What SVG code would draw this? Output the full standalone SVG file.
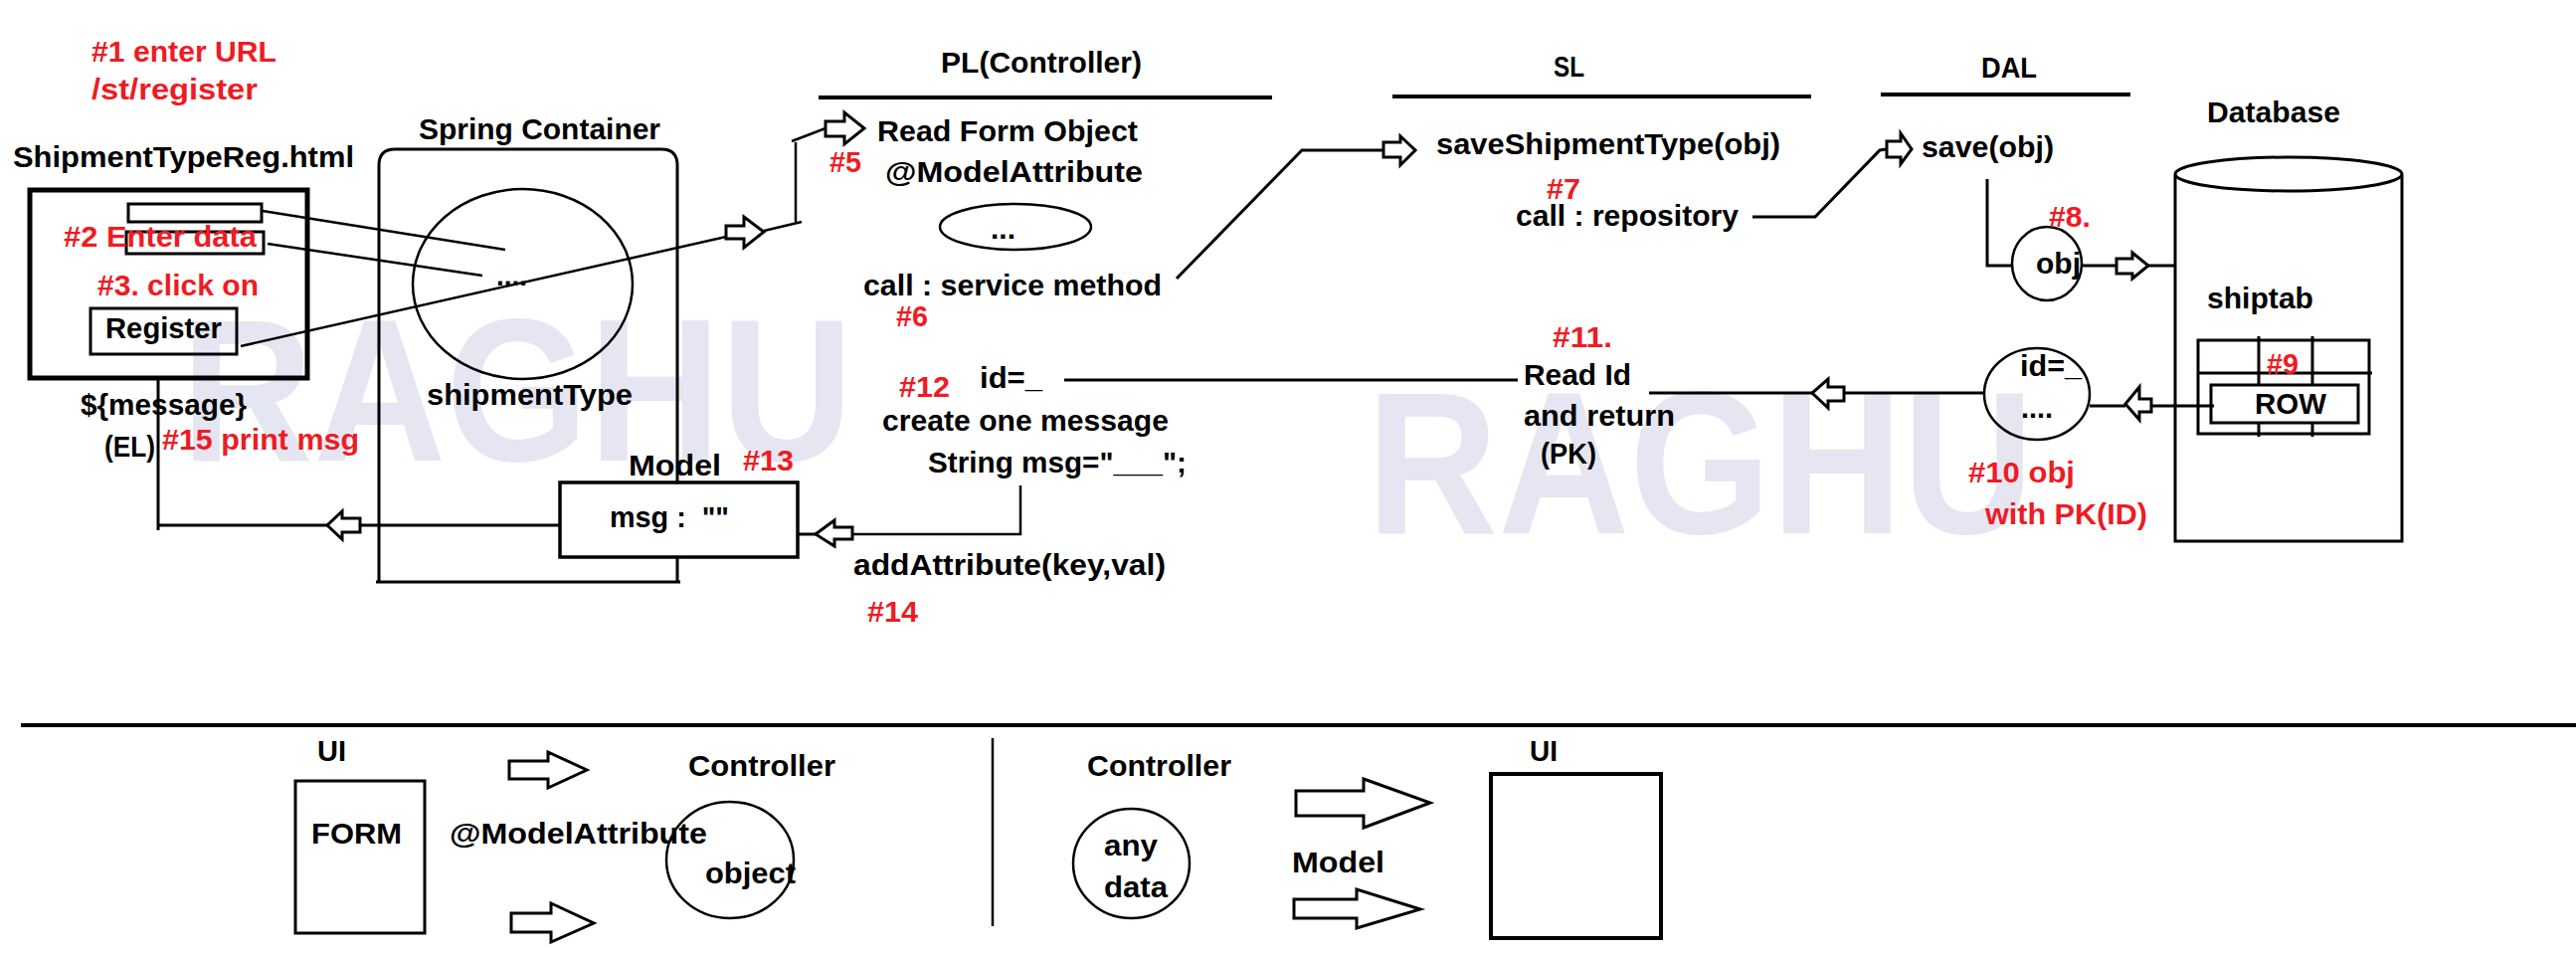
<svg xmlns="http://www.w3.org/2000/svg" width="2590" height="960" viewBox="0 0 2590 960">
<style>
text{font-family:"Liberation Sans",Arial,sans-serif;font-weight:bold;font-size:30px;fill:#000}
text.r{fill:#ED1C24}
text.wm{fill:#E6E6F2;font-size:204px}
.s{fill:none;stroke:#000;stroke-width:3}
.w{fill:#fff;stroke:#000;stroke-width:3}
.thin{fill:none;stroke:#000;stroke-width:2.5}
.ar{fill:#fff;stroke:#000;stroke-width:3;stroke-linejoin:miter}
</style>
<rect width="2590" height="960" fill="#fff"/>
<g id="watermarks">
<text class="wm" x="182" y="463" textLength="676" lengthAdjust="spacingAndGlyphs">RAGHU</text>
<text class="wm" x="1374" y="536" textLength="671" lengthAdjust="spacingAndGlyphs">RAGHU</text>
</g>
<g id="layers">
<line class="s" x1="823" y1="98" x2="1279" y2="98" style="stroke-width:4"/>
<line class="s" x1="1400" y1="97" x2="1821" y2="97" style="stroke-width:4"/>
<line class="s" x1="1891" y1="95" x2="2142" y2="95" style="stroke-width:4"/>
<text x="946" y="73" textLength="202" lengthAdjust="spacingAndGlyphs">PL(Controller)</text>
<text x="1562" y="77" textLength="31" lengthAdjust="spacingAndGlyphs">SL</text>
<text x="1992" y="78" textLength="56" lengthAdjust="spacingAndGlyphs">DAL</text>
</g>
<g id="steps-top">
<text class="r" x="92" y="62" textLength="186" lengthAdjust="spacingAndGlyphs">#1 enter URL</text>
<text class="r" x="92" y="100" textLength="167" lengthAdjust="spacingAndGlyphs">/st/register</text>
</g>
<g id="html-page">
<text x="13" y="168" textLength="343" lengthAdjust="spacingAndGlyphs">ShipmentTypeReg.html</text>
<rect x="30" y="191" width="279" height="189" class="s" style="stroke-width:5"/>
<rect x="129" y="205" width="134" height="18" class="s"/>
<rect x="127" y="233" width="138" height="22" class="s"/>
<rect x="91" y="310" width="147" height="46" class="s"/>
<text x="106" y="340" textLength="117" lengthAdjust="spacingAndGlyphs">Register</text>
<text class="r" x="64" y="248" textLength="194" lengthAdjust="spacingAndGlyphs">#2 Enter data</text>
<text class="r" x="98" y="297" textLength="162" lengthAdjust="spacingAndGlyphs">#3. click on</text>
<text x="81" y="417" textLength="167" lengthAdjust="spacingAndGlyphs">${message}</text>
<text x="105" y="459" textLength="51" lengthAdjust="spacingAndGlyphs">(EL)</text>
<text class="r" x="163" y="452" textLength="198" lengthAdjust="spacingAndGlyphs">#15 print msg</text>
</g>
<g id="spring-container">
<text x="421" y="140" textLength="243" lengthAdjust="spacingAndGlyphs">Spring Container</text>
<path class="s" d="M381,585 V166 Q381,150 397,150 H665 Q681,150 681,166 V585"/>
<line class="s" x1="378" y1="585" x2="684" y2="585"/>
</g>
<g id="shipmentType-object">
<ellipse cx="525.5" cy="285.5" rx="110.5" ry="95.5" class="thin"/>
<text x="499" y="287" textLength="31" lengthAdjust="spacingAndGlyphs">....</text>
<text x="429" y="407" textLength="207" lengthAdjust="spacingAndGlyphs">shipmentType</text>
</g>
<g id="model">
<rect x="563" y="485" width="239" height="75" class="w" style="stroke-width:3.5"/>
<text x="613" y="530" xml:space="preserve" textLength="120" lengthAdjust="spacingAndGlyphs">msg :  ""</text>
<text x="632" y="478" textLength="93" lengthAdjust="spacingAndGlyphs">Model</text>
<text class="r" x="747" y="473" textLength="51" lengthAdjust="spacingAndGlyphs">#13</text>
</g>
<g id="controller">
<text x="882" y="142" textLength="262" lengthAdjust="spacingAndGlyphs">Read Form Object</text>
<text x="890" y="183" textLength="259" lengthAdjust="spacingAndGlyphs">@ModelAttribute</text>
<text class="r" x="834" y="173" textLength="32" lengthAdjust="spacingAndGlyphs">#5</text>
<ellipse cx="1021" cy="228" rx="76" ry="23" class="thin"/>
<text x="996" y="240" textLength="25" lengthAdjust="spacingAndGlyphs">...</text>
<text x="868" y="297" textLength="300" lengthAdjust="spacingAndGlyphs">call : service method</text>
<text class="r" x="901" y="328" textLength="32" lengthAdjust="spacingAndGlyphs">#6</text>
<text class="r" x="904" y="399" textLength="51" lengthAdjust="spacingAndGlyphs">#12</text>
<text x="985" y="390" textLength="63" lengthAdjust="spacingAndGlyphs">id=_</text>
<text x="887" y="433" textLength="288" lengthAdjust="spacingAndGlyphs">create one message</text>
<text x="933" y="475" textLength="260" lengthAdjust="spacingAndGlyphs">String msg="___";</text>
<text x="858" y="578" textLength="314" lengthAdjust="spacingAndGlyphs">addAttribute(key,val)</text>
<text class="r" x="872" y="625" textLength="51" lengthAdjust="spacingAndGlyphs">#14</text>
</g>
<g id="service">
<text x="1444" y="155" textLength="346" lengthAdjust="spacingAndGlyphs">saveShipmentType(obj)</text>
<text class="r" x="1555" y="200" textLength="34" lengthAdjust="spacingAndGlyphs">#7</text>
<text x="1524" y="227" textLength="224" lengthAdjust="spacingAndGlyphs">call : repository</text>
<text class="r" x="1561" y="349" textLength="60" lengthAdjust="spacingAndGlyphs">#11.</text>
<text x="1532" y="387" textLength="108" lengthAdjust="spacingAndGlyphs">Read Id</text>
<text x="1532" y="428" textLength="152" lengthAdjust="spacingAndGlyphs">and return</text>
<text x="1549" y="466" textLength="56" lengthAdjust="spacingAndGlyphs">(PK)</text>
</g>
<g id="dal">
<text x="1932" y="158" textLength="133" lengthAdjust="spacingAndGlyphs">save(obj)</text>
<ellipse cx="2058" cy="265" rx="35" ry="37" class="thin"/>
<text x="2047" y="275" textLength="45" lengthAdjust="spacingAndGlyphs">obj</text>
<text class="r" x="2060" y="228" textLength="42" lengthAdjust="spacingAndGlyphs">#8.</text>
<ellipse cx="2048" cy="396" rx="53" ry="46" class="thin"/>
<text x="2031" y="378" textLength="62" lengthAdjust="spacingAndGlyphs">id=_</text>
<text x="2032" y="420" textLength="32" lengthAdjust="spacingAndGlyphs">....</text>
<text class="r" x="1979" y="485" textLength="107" lengthAdjust="spacingAndGlyphs">#10 obj</text>
<text class="r" x="1996" y="527" textLength="163" lengthAdjust="spacingAndGlyphs">with PK(ID)</text>
</g>
<g id="database">
<text x="2219" y="123" textLength="134" lengthAdjust="spacingAndGlyphs">Database</text>
<path class="s" d="M2187,176 V544 H2415 V176"/>
<ellipse cx="2301" cy="175" rx="114" ry="17" class="s"/>
<text x="2219" y="310" textLength="107" lengthAdjust="spacingAndGlyphs">shiptab</text>
<rect x="2210" y="342" width="172" height="94" class="s"/>
<line class="s" x1="2210" y1="375" x2="2385" y2="375"/>
<line class="s" x1="2271" y1="338" x2="2271" y2="439"/>
<line class="s" x1="2325" y1="338" x2="2325" y2="439"/>
<rect x="2223" y="387" width="148" height="38" class="w"/>
<text x="2267" y="416" textLength="72" lengthAdjust="spacingAndGlyphs">ROW</text>
<text class="r" x="2279" y="376" textLength="32" lengthAdjust="spacingAndGlyphs">#9</text>
</g>
<g id="connectors">
<line class="thin" x1="264" y1="212" x2="508" y2="251"/>
<line class="thin" x1="269" y1="245" x2="485" y2="277"/>
<line class="thin" x1="242" y1="348" x2="730" y2="238"/>
<path class="ar" d="M730,227 H748 V218 L768,233 L748,249 V240 H730 Z"/>
<polyline class="thin" points="768,232 806,223"/>
<line class="thin" x1="800" y1="223" x2="800" y2="143"/>
<line class="thin" x1="796" y1="142" x2="830" y2="129"/>
<path class="ar" d="M830,122 H849 V113 L869,129 L849,145 V137 H830 Z"/>
<polyline class="s" points="1183,280 1309,151 1391,151"/>
<path class="ar" d="M1391,143 H1408 V137 L1423,151 L1408,166 V158 H1391 Z"/>
<polyline class="s" points="1762,218 1825,218 1890,151 1897,150"/>
<path class="ar" d="M1897,142 H1911 V134 L1922,150 L1911,165 V158 H1897 Z"/>
<polyline class="s" points="1998,180 1998,267 2023,267"/>
<line class="s" x1="2093" y1="267" x2="2128" y2="267"/>
<path class="ar" d="M2128,260 H2144 V254 L2160,267 L2144,280 V275 H2128 Z"/>
<line class="s" x1="2160" y1="267" x2="2187" y2="267"/>
<line class="s" x1="2226" y1="408" x2="2163" y2="408"/>
<path class="ar" d="M2163,401 H2151 V389 L2137,406 L2151,422 V414 H2163 Z"/>
<line class="s" x1="2137" y1="408" x2="2101" y2="408"/>
<line class="s" x1="1995" y1="395" x2="1854" y2="395"/>
<path class="ar" d="M1854,389 H1838 V381 L1822,395 L1838,410 V403 H1854 Z"/>
<line class="s" x1="1822" y1="395" x2="1658" y2="395"/>
<line class="s" x1="1526" y1="382" x2="1070" y2="382"/>
<polyline class="thin" points="1026,488 1026,537 857,537"/>
<path class="ar" d="M857,530 H839 V523 L820,537 L839,549 V542 H857 Z"/>
<line class="s" x1="820" y1="537" x2="802" y2="537"/>
<line class="s" x1="563" y1="528" x2="362" y2="528"/>
<path class="ar" d="M362,521 H344 V514 L329,528 L344,542 V535 H362 Z"/>
<line class="s" x1="329" y1="528" x2="158" y2="528"/>
<line class="s" x1="159" y1="533" x2="159" y2="382"/>
</g>
<g id="legend">
<line class="s" x1="21" y1="729" x2="2590" y2="729" style="stroke-width:4"/>
<line class="thin" x1="998" y1="742" x2="998" y2="931"/>
</g>
<g id="legend-ui-form">
<text x="319" y="765" textLength="29" lengthAdjust="spacingAndGlyphs">UI</text>
<rect x="297" y="785" width="130" height="153" class="s"/>
<text x="313" y="848" textLength="91" lengthAdjust="spacingAndGlyphs">FORM</text>
</g>
<g id="legend-arrows-1">
<path class="ar" d="M512,765 H551 V756 L590,774 L551,792 V783 H512 Z"/>
<path class="ar" d="M514,918 H554 V908 L597,928 L554,947 V937 H514 Z"/>
<text x="452" y="848" textLength="259" lengthAdjust="spacingAndGlyphs">@ModelAttribute</text>
</g>
<g id="legend-controller-object">
<text x="692" y="780" textLength="148" lengthAdjust="spacingAndGlyphs">Controller</text>
<ellipse cx="734" cy="864.5" rx="64" ry="58.5" class="thin"/>
<text x="709" y="888" textLength="91" lengthAdjust="spacingAndGlyphs">object</text>
</g>
<g id="legend-controller-data">
<text x="1093" y="780" textLength="145" lengthAdjust="spacingAndGlyphs">Controller</text>
<ellipse cx="1137.5" cy="868" rx="58.5" ry="55" class="thin"/>
<text x="1110" y="860" textLength="54" lengthAdjust="spacingAndGlyphs">any</text>
<text x="1110" y="902" textLength="64" lengthAdjust="spacingAndGlyphs">data</text>
</g>
<g id="legend-arrows-2">
<path class="ar" d="M1303,795 H1371 V783 L1438,807 L1371,832 V820 H1303 Z"/>
<text x="1299" y="877" textLength="93" lengthAdjust="spacingAndGlyphs">Model</text>
<path class="ar" d="M1301,904 H1364 V894 L1428,914 L1364,933 V923 H1301 Z"/>
</g>
<g id="legend-ui">
<text x="1538" y="765" textLength="28" lengthAdjust="spacingAndGlyphs">UI</text>
<rect x="1499" y="778" width="171" height="165" class="s" style="stroke-width:4"/>
</g>
</svg>
